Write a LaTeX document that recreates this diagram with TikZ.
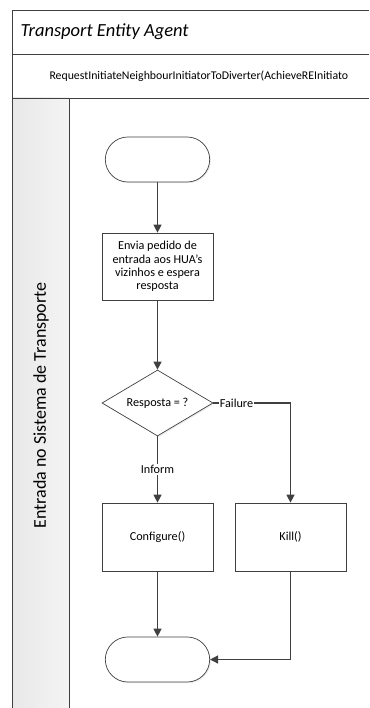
\documentclass[tikz,border=0pt]{standalone}
\usepackage{fontspec}
\setmainfont{Carlito}
\usetikzlibrary{arrows.meta,shapes.geometric,shapes.misc,shadows}

\definecolor{lineGray}{HTML}{404040}
\definecolor{laneGray}{HTML}{F4F4F4}

\begin{document}
\begin{tikzpicture}[x=1bp, y=1bp,
    every node/.style={font=\fontsize{12.2bp}{13.4bp}\selectfont, text=black},
    shape base/.style={draw=lineGray, fill=white, line width=0.7pt,
        drop shadow={shadow xshift=1.2bp, shadow yshift=-1.2bp, opacity=0.15}},
    terminal/.style={shape base, rounded rectangle, minimum width=111bp, minimum height=45bp},
    task/.style={shape base, rectangle, minimum width=111bp, minimum height=67bp,
        align=center, inner sep=0pt},
    decision/.style={shape base, diamond, aspect=1.68, minimum width=111bp, minimum height=66bp, inner sep=0pt},
    flow/.style={draw=lineGray, line width=1.3pt, -{Triangle[length=8bp, width=8bp]}},
    flowlabel/.style={fill=white, inner sep=1bp}]
    \useasboundingbox (0,0) rectangle (369,-708);

    % pool frame with header rows
    \fill[left color=black!9, right color=laneGray] (12,-98) rectangle (69,-708);
    \draw[lineGray, line width=0.7pt] (369,-10) -- (12,-10) -- (12,-708);
    \draw[lineGray, line width=0.7pt] (12,-54) -- (369,-54);
    \draw[lineGray, line width=0.7pt] (12,-98) -- (369,-98);
    \draw[lineGray, line width=0.7pt] (69,-98) -- (69,-708);

    \node[anchor=west, font=\fontsize{18.5bp}{22bp}\selectfont\itshape] (pool) at (17,-32) {Transport Entity Agent};
    \node[anchor=west, font=\fontsize{11.8bp}{13bp}\selectfont] (proto) at (46,-76) {RequestInitiateNeighbourInitiatorToDiverter(AchieveREInitiato};
    \node[rotate=90, font=\fontsize{18bp}{21bp}\selectfont] (lane) at (41,-405.5) {Entrada no Sistema de Transporte};

    % flow nodes
    \node[terminal] (start) at (157.5,-159.5) {};
    \node[task] (pedido) at (157.5,-266.5) {Envia pedido de\\entrada aos HUA’s\\vizinhos e espera\\resposta};
    \node[decision] (resp) at (157.5,-403) {Resposta = ?};
    \node[task, minimum height=68bp] (config) at (157.5,-537) {Configure()};
    \node[task, minimum height=68bp] (kill) at (290.5,-537) {Kill()};
    \node[terminal] (fim) at (157.5,-659.5) {};

    % connectors
    \draw[flow] (start) -- (pedido);
    \draw[flow] (pedido) -- (resp);
    \draw[flow] (resp) -- node[flowlabel] {Inform} (config);
    \draw[flow] (resp.east) -| node[flowlabel, pos=0.15] {Failure} (kill.north);
    \draw[flow] (config) -- (fim);
    \draw[flow] (kill.south) |- (fim.east);
\end{tikzpicture}
\end{document}
